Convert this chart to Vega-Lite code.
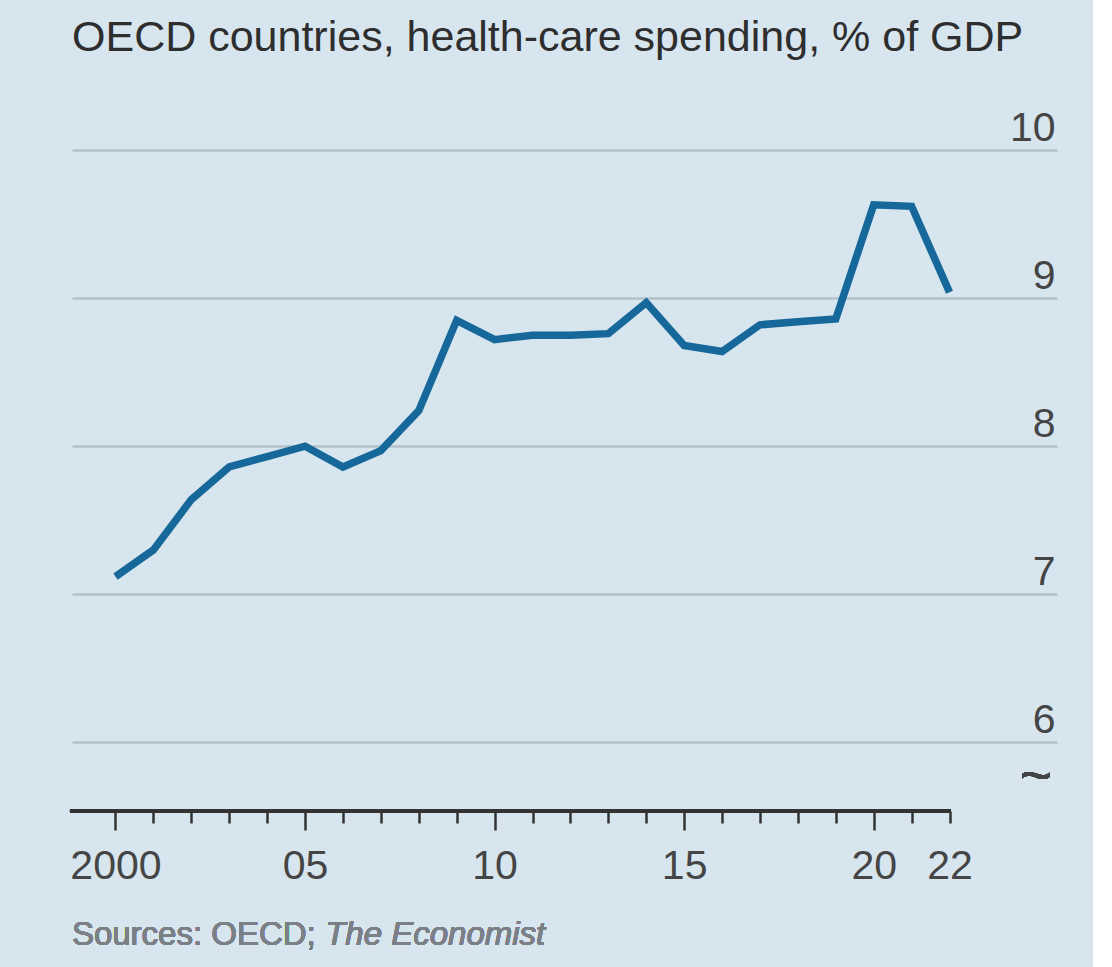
{
  "$schema": "https://vega.github.io/schema/vega-lite/v6.json",
  "autosize": {"type": "none"},
  "width": 985,
  "height": 711,
  "padding": {"left": 72, "top": 100, "right": 36, "bottom": 156},
  "background": "#d7e5ee",
  "config": {
    "view": {"stroke": null},
    "font": "Liberation Sans, Arial, sans-serif"
  },
  "title": {
    "text": "OECD countries, health-care spending, % of GDP",
    "anchor": "start",
    "frame": "group",
    "fontSize": 43,
    "fontWeight": "normal",
    "color": "#2e2e2e",
    "font": "Liberation Sans, Arial, sans-serif",
    "baseline": "alphabetic",
    "offset": 6
  },
  "datasets": {
    "spend": [
      {"year": 2000, "pct": 7.12},
      {"year": 2001, "pct": 7.30},
      {"year": 2002, "pct": 7.64},
      {"year": 2003, "pct": 7.86},
      {"year": 2004, "pct": 7.93},
      {"year": 2005, "pct": 8.00},
      {"year": 2006, "pct": 7.86},
      {"year": 2007, "pct": 7.97},
      {"year": 2008, "pct": 8.24},
      {"year": 2009, "pct": 8.85},
      {"year": 2010, "pct": 8.72},
      {"year": 2011, "pct": 8.75},
      {"year": 2012, "pct": 8.75},
      {"year": 2013, "pct": 8.76},
      {"year": 2014, "pct": 8.97},
      {"year": 2015, "pct": 8.68},
      {"year": 2016, "pct": 8.64},
      {"year": 2017, "pct": 8.82},
      {"year": 2018, "pct": 8.84},
      {"year": 2019, "pct": 8.86},
      {"year": 2020, "pct": 9.63},
      {"year": 2021, "pct": 9.62},
      {"year": 2022, "pct": 9.04}
    ]
  },
  "data": {"name": "spend"},
  "encoding": {
    "x": {
      "field": "year",
      "type": "quantitative",
      "scale": {"domain": [1998.853, 2024.835], "nice": false, "zero": false},
      "axis": {
        "orient": "bottom",
        "values": [2000, 2001, 2002, 2003, 2004, 2005, 2006, 2007, 2008, 2009, 2010, 2011, 2012, 2013, 2014, 2015, 2016, 2017, 2018, 2019, 2020, 2021, 2022],
        "domain": false,
        "grid": false,
        "ticks": true,
        "tickColor": "#333333",
        "tickWidth": 2.5,
        "tickSize": {"condition": {"test": "datum.value % 5 === 0", "value": 19}, "value": 12},
        "labelExpr": "datum.value === 2000 ? '2000' : ((datum.value % 5 === 0 || datum.value === 2022) ? slice(toString(datum.value), 2) : '')",
        "labelFontSize": 41,
        "labelColor": "#454545",
        "labelBaseline": "alphabetic",
        "labelPadding": {"condition": {"test": "datum.value === 2022", "value": 55}, "value": 48},
        "labelOverlap": false,
        "labelFlush": false,
        "title": null
      }
    },
    "y": {
      "field": "pct",
      "type": "quantitative",
      "scale": {"domain": [5.5375, 10.3376], "nice": false, "zero": false},
      "axis": {
        "orient": "right",
        "values": [6, 7, 8, 9, 10],
        "grid": true,
        "gridColor": "#b4c1c9",
        "gridWidth": 2.5,
        "domain": false,
        "ticks": false,
        "tickSize": 0,
        "labelAlign": "right",
        "labelPadding": -2,
        "labelBaseline": "alphabetic",
        "labelOffset": -10,
        "labelFontSize": 41,
        "labelColor": "#454545",
        "title": null
      }
    }
  },
  "layer": [
    {
      "mark": {"type": "line", "color": "#17689a", "strokeWidth": 7.5, "strokeJoin": "miter", "strokeCap": "butt"}
    },
    {
      "mark": {"type": "rule", "color": "#333333", "strokeWidth": 3},
      "encoding": {
        "x": {"datum": 1998.8},
        "x2": {"datum": 2022.03},
        "y": {"datum": 5.5375}
      }
    },
    {
      "mark": {"type": "text", "align": "left", "baseline": "alphabetic", "fontSize": 33, "color": "#7b8086"},
      "encoding": {
        "x": {"datum": 1998.85},
        "y": {"datum": 4.633},
        "text": {"value": "Sources: OECD;"}
      }
    },
    {
      "mark": {"type": "text", "align": "left", "baseline": "alphabetic", "fontSize": 33, "fontStyle": "italic", "color": "#7b8086"},
      "encoding": {
        "x": {"datum": 2005.53},
        "y": {"datum": 4.633},
        "text": {"value": "The Economist"}
      }
    },
    {
      "mark": {"type": "text", "align": "center", "baseline": "middle", "fontSize": 56, "color": "#444444"},
      "encoding": {
        "x": {"datum": 2024.28},
        "y": {"datum": 5.767},
        "text": {"value": "~"}
      }
    }
  ]
}
